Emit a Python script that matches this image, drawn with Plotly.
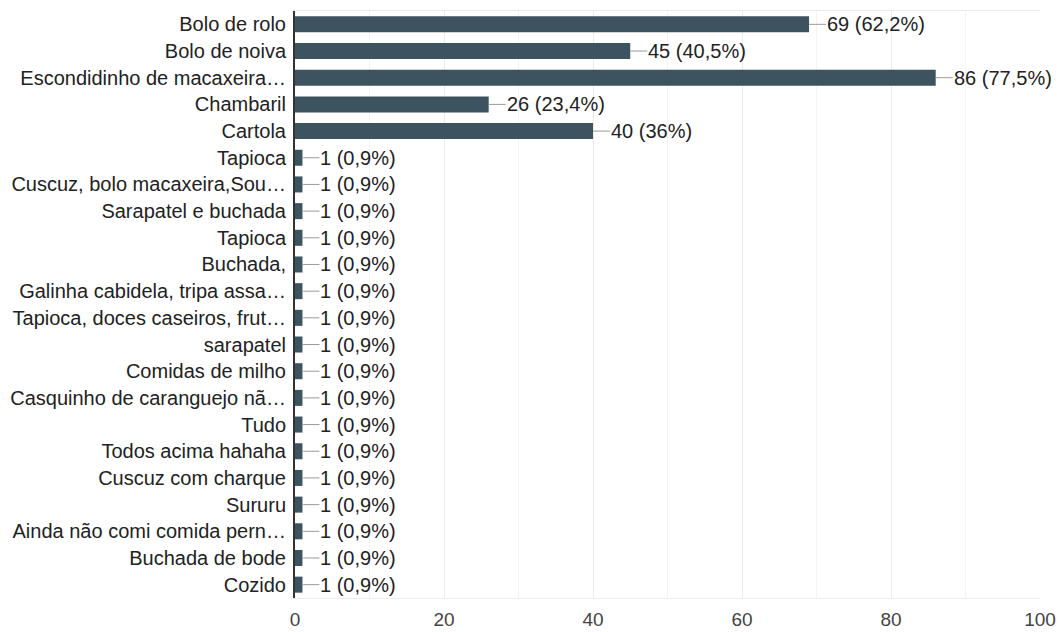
import plotly.graph_objects as go

categories = [
    "Bolo de rolo", "Bolo de noiva", "Escondidinho de macaxeira…", "Chambaril", "Cartola",
    "Tapioca", "Cuscuz, bolo macaxeira,Sou…", "Sarapatel e buchada", "Tapioca", "Buchada,",
    "Galinha cabidela, tripa assa…", "Tapioca, doces caseiros, frut…", "sarapatel",
    "Comidas de milho", "Casquinho de caranguejo nã…", "Tudo", "Todos acima hahaha",
    "Cuscuz com charque", "Sururu", "Ainda não comi comida pern…", "Buchada de bode", "Cozido",
]
counts = [69, 45, 86, 26, 40, 1, 1, 1, 1, 1, 1, 1, 1, 1, 1, 1, 1, 1, 1, 1, 1, 1]
total_responses = 111
x_ticks = [0, 20, 40, 60, 80, 100]

def fmt_pct(v):
    p = round(v / total_responses * 100, 1)
    s = f"{p:.1f}".rstrip("0").rstrip(".")
    return s.replace(".", ",")

pos = list(range(len(categories)))
labels = [f"{c} ({fmt_pct(c)}%)" for c in counts]

bar_color = "#3d5360"
FONT = "Liberation Sans, Arial, sans-serif"

fig = go.Figure()
fig.add_trace(go.Bar(
    x=counts, y=pos, orientation="h",
    marker=dict(color=bar_color, line=dict(width=0)),
    width=0.6, hoverinfo="skip",
))

for c, p, lab in zip(counts, pos, labels):
    fig.add_annotation(
        x=c, y=p, xref="x", yref="y", text=lab,
        showarrow=True, arrowhead=0, arrowwidth=1, arrowcolor="#9a9a9a",
        ax=17, ay=0, xanchor="left", yanchor="middle",
        font=dict(family=FONT, size=20, color="#222222"),
        borderpad=0,
    )

fig.update_layout(
    width=1061, height=632,
    margin=dict(l=295, r=21, t=11, b=34),
    paper_bgcolor="white", plot_bgcolor="white",
    showlegend=False,
    font=dict(family=FONT, size=20, color="#222222"),
)
fig.update_xaxes(
    range=[0, 100], tickvals=x_ticks, ticktext=[str(t) for t in x_ticks],
    showgrid=True, gridcolor="#ebebeb", gridwidth=1,
    minor=dict(dtick=10, showgrid=True, gridcolor="#f3f3f3"),
    showline=True, linecolor="#ebebeb", linewidth=1, mirror=True,
    zeroline=False, ticks="", tickfont=dict(family=FONT, size=19, color="#444444"),
    ticklabelstandoff=4, fixedrange=True, automargin=False,
)
fig.update_yaxes(
    range=[len(categories) - 0.5, -0.5], tickvals=pos, ticktext=categories,
    showgrid=False, zeroline=False, showline=True, linecolor="#333333", linewidth=2,
    ticks="", tickfont=dict(family=FONT, size=20, color="#222222"), ticklabelstandoff=3,
    fixedrange=True, automargin=False,
)

fig.write_html("out.html")
